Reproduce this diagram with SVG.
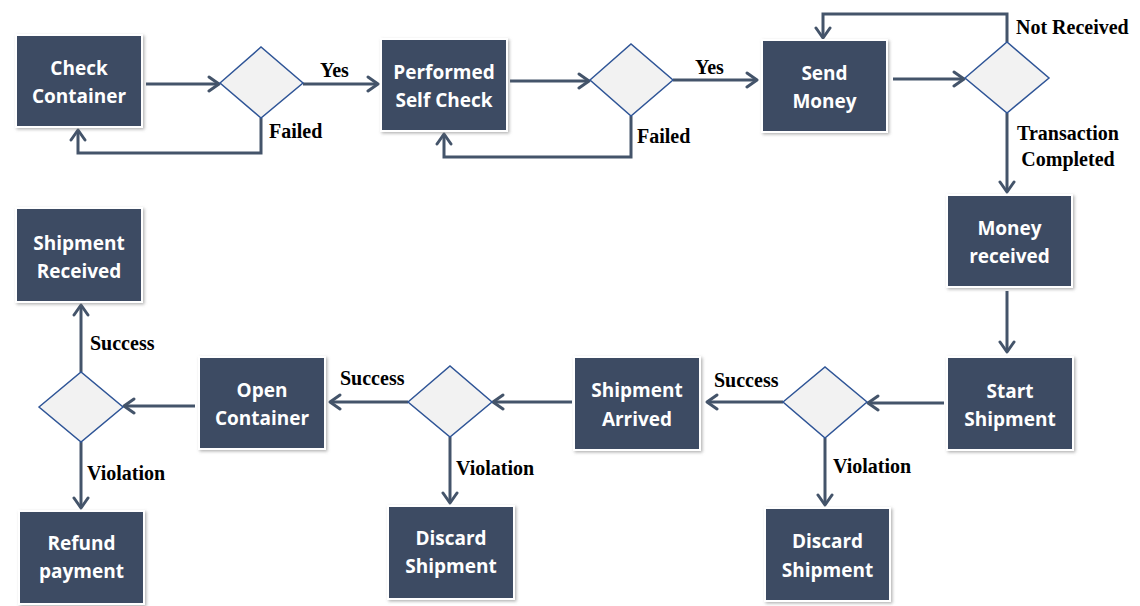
<svg xmlns="http://www.w3.org/2000/svg" width="1140" height="606" viewBox="0 0 1140 606">
<defs>
<filter id="sh" x="-10%" y="-10%" width="125%" height="125%">
<feDropShadow dx="1.5" dy="1.5" stdDeviation="1.5" flood-color="#777" flood-opacity="0.55"/>
</filter>
<marker id="ah" viewBox="0 0 14 18" refX="12" refY="9" markerWidth="14" markerHeight="18" markerUnits="userSpaceOnUse" orient="auto">
<path d="M2,2 L12,9 L2,16" fill="none" stroke="#44546a" stroke-width="3" stroke-linecap="round" stroke-linejoin="round"/>
</marker>
</defs>
<style>
.box{fill:#3e4c63;stroke:#ffffff;stroke-width:2;filter:url(#sh)}
.bt{fill:#ffffff;font-family:"Open Sans","DejaVu Sans",sans-serif;font-weight:700;font-size:19px;text-anchor:middle}
.dia{fill:#f2f2f2;stroke:#2f5597;stroke-width:1.5}
.con{fill:none;stroke:#44546a;stroke-width:3;marker-end:url(#ah)}
.lb{fill:#000000;font-family:"Liberation Serif","Times New Roman",serif;font-weight:700;font-size:20px}
</style>
<rect width="1140" height="606" fill="#ffffff"/>

<g id="connectors">
<path class="con" d="M146,84 L219,84"/>
<path class="con" d="M303,84 L378,84"/>
<path class="con" d="M261,118 L261,153 L78,153 L78,130"/>
<path class="con" d="M510,81 L589,81"/>
<path class="con" d="M673,80 L757,80"/>
<path class="con" d="M631,116 L631,157 L444,157 L444,134"/>
<path class="con" d="M893,79 L964,79"/>
<path class="con" d="M1007,42 L1007,14 L823,14 L823,38"/>
<path class="con" d="M1007,113 L1007,192"/>
<path class="con" d="M1007,291 L1007,352"/>
<path class="con" d="M944,403 L868,403"/>
<path class="con" d="M825,438 L825,505"/>
<path class="con" d="M783,402 L707,402"/>
<path class="con" d="M572,402 L493,402"/>
<path class="con" d="M450,437 L450,503"/>
<path class="con" d="M408,402 L330,402"/>
<path class="con" d="M195,406 L124,406"/>
<path class="con" d="M81,372 L81,305"/>
<path class="con" d="M81,442 L81,508"/>
</g>

<g id="labels">
<text class="lb" x="320" y="77">Yes</text>
<text class="lb" x="269" y="138">Failed</text>
<text class="lb" x="695" y="74">Yes</text>
<text class="lb" x="637" y="143">Failed</text>
<text class="lb" x="1016" y="34">Not Received</text>
<text class="lb" x="1068" y="140" text-anchor="middle">Transaction</text>
<text class="lb" x="1068" y="166" text-anchor="middle">Completed</text>
<text class="lb" x="90" y="350">Success</text>
<text class="lb" x="87" y="480">Violation</text>
<text class="lb" x="340" y="385">Success</text>
<text class="lb" x="456" y="475">Violation</text>
<text class="lb" x="714" y="387">Success</text>
<text class="lb" x="833" y="473">Violation</text>
</g>

<g id="d1"><polygon class="dia" points="220,83 261,47 303,83 261,118"/></g>
<g id="d2"><polygon class="dia" points="590,80 631,44 673,80 631,116"/></g>
<g id="d3"><polygon class="dia" points="965,78 1007,42 1049,78 1007,113"/></g>
<g id="d4"><polygon class="dia" points="783,402 825,367 867,402 825,438"/></g>
<g id="d5"><polygon class="dia" points="408,402 450,366 492,402 450,437"/></g>
<g id="d6"><polygon class="dia" points="39,407 81,372 123,407 81,442"/></g>

<g id="checkContainer"><rect class="box" x="16" y="35" width="126" height="92"/><text class="bt" x="79" y="75">Check</text><text class="bt" x="79" y="103">Container</text></g>
<g id="selfCheck"><rect class="box" x="381" y="39" width="126" height="92"/><text class="bt" x="444" y="79">Performed</text><text class="bt" x="444" y="107">Self Check</text></g>
<g id="sendMoney"><rect class="box" x="762" y="40" width="125" height="92"/><text class="bt" x="824.5" y="80">Send</text><text class="bt" x="824.5" y="108">Money</text></g>
<g id="moneyReceived"><rect class="box" x="947" y="195" width="125" height="92"/><text class="bt" x="1009.5" y="235">Money</text><text class="bt" x="1009.5" y="263">received</text></g>
<g id="startShipment"><rect class="box" x="947" y="357" width="126" height="93"/><text class="bt" x="1010" y="398">Start</text><text class="bt" x="1010" y="426">Shipment</text></g>
<g id="discard2"><rect class="box" x="765" y="508" width="125" height="93"/><text class="bt" x="827.5" y="548">Discard</text><text class="bt" x="827.5" y="577">Shipment</text></g>
<g id="shipmentArrived"><rect class="box" x="574" y="357" width="126" height="93"/><text class="bt" x="637" y="397">Shipment</text><text class="bt" x="637" y="426">Arrived</text></g>
<g id="discard1"><rect class="box" x="388" y="506" width="126" height="93"/><text class="bt" x="451" y="545">Discard</text><text class="bt" x="451" y="573">Shipment</text></g>
<g id="openContainer"><rect class="box" x="199" y="357" width="126" height="92"/><text class="bt" x="262" y="397">Open</text><text class="bt" x="262" y="425">Container</text></g>
<g id="shipmentReceived"><rect class="box" x="16" y="208" width="126" height="94"/><text class="bt" x="79" y="250">Shipment</text><text class="bt" x="79" y="278">Received</text></g>
<g id="refund"><rect class="box" x="19" y="511" width="125" height="93"/><text class="bt" x="81.5" y="550">Refund</text><text class="bt" x="81.5" y="578">payment</text></g>
</svg>
